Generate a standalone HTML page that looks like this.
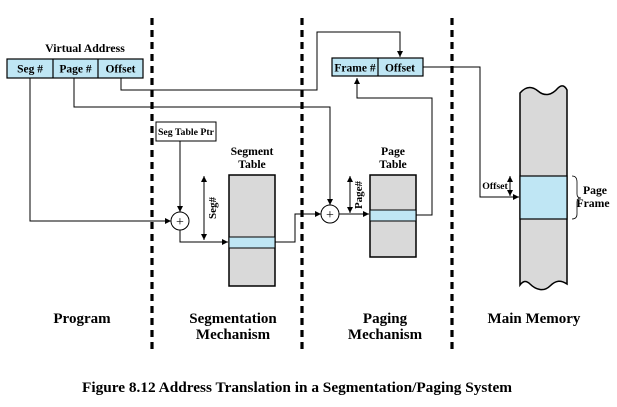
<!DOCTYPE html>
<html><head><meta charset="utf-8"><style>
html,body{margin:0;padding:0;background:#fff;}
svg{display:block;}
text{font-family:"Liberation Serif",serif;font-weight:bold;fill:#000;}
</style></head><body>
<svg width="617" height="407" viewBox="0 0 617 407" xmlns="http://www.w3.org/2000/svg">
<defs>
<marker id="a" viewBox="0 0 10 10" refX="10" refY="5" markerWidth="6" markerHeight="6" orient="auto-start-reverse" markerUnits="userSpaceOnUse"><path d="M0,0 L10,5 L0,10 z" fill="#000"/></marker>
</defs>
<g stroke="#000" stroke-width="3.2" stroke-dasharray="7,5">
<line x1="152" y1="18" x2="152" y2="350"/>
<line x1="302" y1="18" x2="302" y2="350"/>
<line x1="452" y1="18" x2="452" y2="350"/>
</g>
<text x="85" y="52" font-size="11.8" text-anchor="middle">Virtual Address</text>
<rect x="7" y="59" width="136" height="19" fill="#bfe6f4" stroke="#000" stroke-width="1.2"/>
<line x1="53" y1="59" x2="53" y2="78" stroke="#000" stroke-width="1.2"/>
<line x1="98" y1="59" x2="98" y2="78" stroke="#000" stroke-width="1.2"/>
<text x="30" y="72.5" font-size="11.5" text-anchor="middle">Seg #</text>
<text x="75.5" y="72.5" font-size="11.5" text-anchor="middle">Page #</text>
<text x="120.5" y="72.5" font-size="11.5" text-anchor="middle">Offset</text>
<g fill="none" stroke="#000" stroke-width="1">
<polyline points="121,78 121,90 317,90 317,32 400,32 400,57" marker-end="url(#a)"/>
<polyline points="74,78 74,107 330,107 330,205" marker-end="url(#a)"/>
<polyline points="30,78 30,221 171,221" marker-end="url(#a)"/>
<polyline points="180,141 180,212" marker-end="url(#a)"/>
<polyline points="180,230 180,242 228,242" marker-end="url(#a)"/>
<polyline points="275,242 295,242 295,214 321,214" marker-end="url(#a)"/>
<polyline points="339,214 369,214" marker-end="url(#a)"/>
<polyline points="416,215 432,215 432,98 357,98 357,78" marker-end="url(#a)"/>
<polyline points="423,67 480,67 480,197 519,197" marker-end="url(#a)"/>
<line x1="204" y1="176" x2="204" y2="240" marker-start="url(#a)" marker-end="url(#a)"/>
<line x1="350" y1="176" x2="350" y2="213" marker-start="url(#a)" marker-end="url(#a)"/>
<line x1="510" y1="176" x2="510" y2="196" marker-start="url(#a)" marker-end="url(#a)"/>
</g>
<rect x="156" y="122" width="60" height="19" fill="#fff" stroke="#000" stroke-width="1"/>
<text x="186" y="135" font-size="9.8" text-anchor="middle">Seg Table Ptr</text>
<circle cx="180" cy="221" r="9" fill="#fff" stroke="#000" stroke-width="1"/>
<text x="180" y="226" font-size="14" text-anchor="middle" style="font-weight:normal">+</text>
<circle cx="330" cy="214" r="9" fill="#fff" stroke="#000" stroke-width="1"/>
<text x="330" y="219" font-size="14" text-anchor="middle" style="font-weight:normal">+</text>
<text x="252" y="155" font-size="11.7" text-anchor="middle">Segment</text>
<text x="252" y="168" font-size="11.7" text-anchor="middle">Table</text>
<rect x="229" y="175" width="46" height="111" fill="#d9d9d9" stroke="#000" stroke-width="1.5"/>
<rect x="229" y="237" width="46" height="11" fill="#bfe6f4" stroke="#000" stroke-width="1"/>
<text transform="translate(216,208) rotate(-90)" font-size="11" text-anchor="middle">Seg#</text>
<text x="393" y="155" font-size="11.7" text-anchor="middle">Page</text>
<text x="393" y="168" font-size="11.7" text-anchor="middle">Table</text>
<rect x="370" y="175" width="46" height="82" fill="#d9d9d9" stroke="#000" stroke-width="1.5"/>
<rect x="370" y="210" width="46" height="11" fill="#bfe6f4" stroke="#000" stroke-width="1"/>
<text transform="translate(362,195) rotate(-90)" font-size="11" text-anchor="middle">Page#</text>
<rect x="332" y="58" width="91" height="18" fill="#bfe6f4" stroke="#000" stroke-width="1.2"/>
<line x1="378" y1="58" x2="378" y2="76" stroke="#000" stroke-width="1.2"/>
<text x="355" y="71.5" font-size="11.5" text-anchor="middle">Frame #</text>
<text x="400" y="71.5" font-size="11.5" text-anchor="middle">Offset</text>
<path d="M520,93 C526,86 532,86 538,91 C545,97 552,95 558,88 C562,84 565,86 567,90 L567,284 C561,280 556,280 550,286 C544,292 536,290 530,284 C526,280 523,281 520,285 Z" fill="#d9d9d9" stroke="#000" stroke-width="1.5"/>
<rect x="520" y="176" width="47" height="43" fill="#bfe6f4" stroke="#000" stroke-width="1.2"/>
<text x="495" y="189" font-size="9.8" text-anchor="middle">Offset</text>
<path d="M572,176 Q577,176 577,182 L577,194 Q577,198 581,198 Q577,198 577,202 L577,214 Q577,219 572,219" fill="none" stroke="#000" stroke-width="0.8"/>
<text x="595" y="194" font-size="11.7" text-anchor="middle">Page</text>
<text x="593" y="207" font-size="11.7" text-anchor="middle">Frame</text>
<text x="82" y="323" font-size="15" text-anchor="middle">Program</text>
<text x="233" y="323" font-size="15" text-anchor="middle">Segmentation</text>
<text x="233" y="339" font-size="15" text-anchor="middle">Mechanism</text>
<text x="385" y="323" font-size="15" text-anchor="middle">Paging</text>
<text x="385" y="339" font-size="15" text-anchor="middle">Mechanism</text>
<text x="534" y="323" font-size="15" text-anchor="middle">Main Memory</text>
<text x="297" y="392" font-size="15" text-anchor="middle" textLength="430" lengthAdjust="spacingAndGlyphs">Figure 8.12  Address Translation in a Segmentation/Paging System</text>
</svg>
</body></html>
